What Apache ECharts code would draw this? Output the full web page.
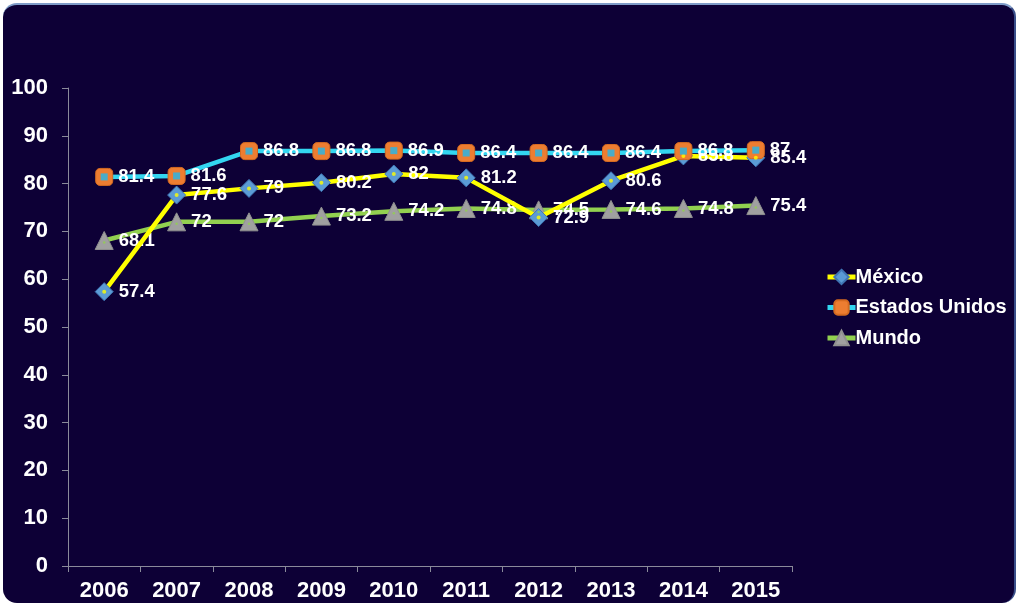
<!DOCTYPE html>
<html><head><meta charset="utf-8">
<script src="https://cdn.jsdelivr.net/npm/echarts@6/dist/echarts.min.js"></script>
<style>
html,body{margin:0;padding:0;background:#fff;}
#bg{position:absolute;left:3px;top:3px;width:1013px;height:600px;border-radius:14px;background:#0d0036;border-top:2px solid #7f9cc8;border-right:2px solid #3a4f8a;box-sizing:border-box;}
#chart{position:absolute;left:0;top:0;width:1021px;height:607px;}
</style></head>
<body>
<div id="bg"></div>
<div id="chart"></div>
<script>
const years = ['2006','2007','2008','2009','2010','2011','2012','2013','2014','2015'];
const mexico = [57.4, 77.6, 79, 80.2, 82, 81.2, 72.9, 80.6, 85.8, 85.4];
const estadosUnidos = [81.4, 81.6, 86.8, 86.8, 86.9, 86.4, 86.4, 86.4, 86.8, 87];
const mundo = [68.1, 72, 72, 73.2, 74.2, 74.8, 74.5, 74.6, 74.8, 75.4];
const seriesNames = ['México', 'Estados Unidos', 'Mundo'];

const font = 'Liberation Sans, Arial, sans-serif';
const lbl = {show:true, position:'right', distance:5, color:'#fff', fontFamily:font, fontWeight:'bold', fontSize:18.5};

const chart = echarts.init(document.getElementById('chart'));
chart.setOption({
  backgroundColor:'transparent',
  animation:false,
  grid:{left:68, right:229, top:88, bottom:41},
  legend:{
    orient:'vertical', left:820, top:262, itemWidth:28, itemHeight:18, itemGap:10.5,
    data:seriesNames,
    lineStyle:{width:5},
    textStyle:{color:'#fff', fontFamily:font, fontWeight:'bold', fontSize:20, padding:[0,0,0,-5]}
  },
  xAxis:{
    type:'category', data:years, boundaryGap:true,
    axisLine:{lineStyle:{color:'#8a8a9a', width:1}},
    axisTick:{show:true, length:6, lineStyle:{color:'#8a8a9a'}},
    axisLabel:{color:'#fff', fontFamily:font, fontWeight:'bold', fontSize:22, margin:14}
  },
  yAxis:{
    type:'value', min:0, max:100, interval:10,
    splitLine:{show:false},
    axisLine:{show:true, lineStyle:{color:'#8a8a9a', width:1}},
    axisTick:{show:true, length:6, lineStyle:{color:'#8a8a9a'}},
    axisLabel:{color:'#fff', fontFamily:font, fontWeight:'bold', fontSize:22, margin:20}
  },
  series:[
    {name:'México', type:'line', data:mexico, symbol:'diamond', symbolSize:18, z:3,
     lineStyle:{color:'#ffff00', width:4.5},
     itemStyle:{color:'#5b9bd5', borderColor:'#3f75b5', borderWidth:1},
     label:lbl},
    {name:'Estados Unidos', type:'line', data:estadosUnidos, symbol:'roundRect', symbolSize:17, z:4,
     lineStyle:{color:'#33d6f0', width:4.5},
     itemStyle:{color:'#ed7d31', borderColor:'#d56a20', borderWidth:1},
     label:lbl},
    {name:'Mundo', type:'line', data:mundo, symbol:'triangle', symbolSize:18, z:2,
     lineStyle:{color:'#92d050', width:4.5},
     itemStyle:{color:'#a0a0a0', borderColor:'#909090', borderWidth:1},
     label:lbl},
    {name:'mx-dot', type:'scatter', data:mexico, symbol:'circle', symbolSize:4, z:5, silent:true,
     itemStyle:{color:'#ffff00'}},
    {name:'us-dot', type:'scatter', data:estadosUnidos, symbol:'rect', symbolSize:7, z:5, silent:true,
     itemStyle:{color:'#1fb8f0'}},
    {name:'mu-dot', type:'scatter', data:mundo, symbol:'circle', symbolSize:2.5, z:5, silent:true, symbolOffset:[0,2],
     itemStyle:{color:'#92d050'}}
  ]
});
</script>
</body></html>
